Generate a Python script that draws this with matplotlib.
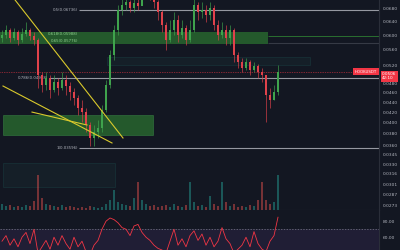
import matplotlib

matplotlib.use("Agg")

import matplotlib.pyplot as plt
import numpy as np
from matplotlib.patches import Rectangle
from matplotlib.ticker import NullLocator

BG = "#131722"
UP = "#3fa34d"
DOWN = "#e0424b"
TEXT = "#b2b5be"

# candles (price), one every bar
closes = [0.0600, 0.0614, 0.0592, 0.0609, 0.0586, 0.0603, 0.0614, 0.0597, 0.0586, 0.0499,
          0.0476, 0.0492, 0.0465, 0.0483, 0.0470, 0.0487, 0.0474, 0.0461, 0.0448, 0.0428,
          0.0420, 0.0396, 0.0373, 0.0383, 0.0390, 0.0424, 0.0476, 0.0547, 0.0614, 0.0674,
          0.0690, 0.0699, 0.0680, 0.0696, 0.0686, 0.0722, 0.0732, 0.0719, 0.0699, 0.0668,
          0.0629, 0.0586, 0.0614, 0.0643, 0.0600, 0.0620, 0.0586, 0.0614, 0.0690, 0.0668,
          0.0674, 0.0658, 0.0680, 0.0629, 0.0600, 0.0614, 0.0592, 0.0614, 0.0547, 0.0530,
          0.0515, 0.0530, 0.0510, 0.0520, 0.0506, 0.0499, 0.0455, 0.0444, 0.0461, 0.0506]
highs = [0.0614, 0.0629, 0.0620, 0.0620, 0.0614, 0.0620, 0.0637, 0.0620, 0.0609, 0.0592,
         0.0506, 0.0506, 0.0499, 0.0499, 0.0492, 0.0506, 0.0499, 0.0483, 0.0470, 0.0455,
         0.0444, 0.0428, 0.0401, 0.0396, 0.0405, 0.0434, 0.0487, 0.0560, 0.0629, 0.0690,
         0.0719, 0.0732, 0.0706, 0.0722, 0.0722, 0.0739, 0.0739, 0.0739, 0.0732, 0.0706,
         0.0674, 0.0637, 0.0643, 0.0668, 0.0658, 0.0643, 0.0629, 0.0643, 0.0712, 0.0699,
         0.0699, 0.0690, 0.0699, 0.0690, 0.0643, 0.0637, 0.0629, 0.0629, 0.0620, 0.0555,
         0.0540, 0.0540, 0.0535, 0.0530, 0.0525, 0.0515, 0.0499, 0.0470, 0.0476, 0.0522]
lows = [0.0581, 0.0592, 0.0581, 0.0586, 0.0573, 0.0581, 0.0597, 0.0586, 0.0573, 0.0470,
        0.0461, 0.0465, 0.0448, 0.0461, 0.0455, 0.0465, 0.0455, 0.0444, 0.0434, 0.0414,
        0.0401, 0.0383, 0.0359, 0.0359, 0.0373, 0.0383, 0.0420, 0.0470, 0.0535, 0.0600,
        0.0658, 0.0674, 0.0668, 0.0668, 0.0674, 0.0690, 0.0712, 0.0706, 0.0680, 0.0643,
        0.0609, 0.0560, 0.0581, 0.0600, 0.0581, 0.0592, 0.0573, 0.0581, 0.0609, 0.0643,
        0.0649, 0.0637, 0.0643, 0.0614, 0.0586, 0.0592, 0.0573, 0.0573, 0.0530, 0.0515,
        0.0506, 0.0510, 0.0499, 0.0506, 0.0492, 0.0483, 0.0401, 0.0428, 0.0444, 0.0455]
first_open = 0.0592
volumes = [6, 4, 5, 3, 4, 3, 5, 4, 9, 35, 12, 6, 5, 4, 3, 5, 3, 4, 3, 2,
           3, 2, 4, 3, 2, 3, 6, 10, 20, 8, 6, 5, 4, 12, 28, 10, 6, 4, 5, 3,
           4, 5, 3, 6, 4, 3, 5, 28, 8, 4, 5, 3, 14, 6, 4, 28, 8, 4, 6, 3,
           4, 3, 5, 4, 10, 28, 10, 6, 8, 35]
rsi = [55, 62, 50, 58, 48, 60, 66, 52, 70, 40, 48, 56, 45, 60, 50, 62, 52, 45, 60, 48,
       55, 42, 38, 50, 56, 70, 80, 84, 82, 78, 72, 70, 62, 74, 76, 66, 60, 56, 50, 46,
       44, 40, 55, 70, 50, 58, 48, 62, 68, 56, 64, 50, 60, 48, 55, 72, 58, 52, 40, 45,
       50, 60, 48, 67, 52, 45, 42, 55, 62, 85]

price_ticks = [0.0680, 0.0640, 0.0600, 0.0560, 0.0520, 0.0480, 0.0460, 0.0440, 0.0420,
               0.0400, 0.0380, 0.0360, 0.0345, 0.0330, 0.0316, 0.0301, 0.0287, 0.0273]
rsi_ticks = [80, 60]

# fib levels: (label, price, start bar)
fib_levels = [("0.5(0.06736)", 0.0674, 19.3), ("0.786(0.04938)", 0.0492, 12.0),
              ("1(0.03596)", 0.0356, 19.3)]
fib_zone = (0.0608, 0.0575)
fib_zone_labels = [("0.618(0.05988)", 0.0603), ("0.65(0.05776)", 0.0583)]
# drawn trend lines: (bar0, price0, bar1, price1)
trend_lines = [(3.25, 0.0706, 30.25, 0.03725),
               (0.25, 0.04739, 27.5, 0.0364),
               (7.5, 0.0420, 21.25, 0.03956)]
# drawn boxes: (bar0, bar1, price_low, price_high)
demand_box = (0.25, 37.75, 0.03777, 0.04144)
teal_boxes = [(26.25, 77.0, 0.05223, 0.0542), (0.25, 28.25, 0.02969, 0.0332)]


def draw_candles(ax):
    opens = [first_open] + closes[:-1]
    for i, (o, h, l, c) in enumerate(zip(opens, highs, lows, closes)):
        col = UP if c >= o else DOWN
        ax.vlines(i, l, h, color=col, lw=0.45, zorder=3)
        lo, hi = min(o, c), max(o, c)
        if hi / lo < 1.003:
            hi = lo * 1.003
        ax.add_patch(Rectangle((i - 0.25, lo), 0.5, hi - lo, color=col, lw=0, zorder=4))


def main():
    fig = plt.figure(figsize=(4, 2.5), dpi=100, facecolor=BG)
    ax = fig.add_axes([0, 0.16, 0.9475, 0.84], facecolor=BG)
    rax = fig.add_axes([0, 0, 0.9475, 0.16], facecolor=BG)
    n = len(closes)
    xmin, xmax = -0.5, 94.25

    ax.set_yscale("log")
    ax.set_xlim(xmin, xmax)
    ax.set_ylim(0.02669, 0.07057)

    # volume overlay
    vax = ax.twinx()
    vax.set_ylim(0, 210)
    vax.set_axis_off()
    opens = [first_open] + closes[:-1]
    vcols = ["#26a69a" if c >= o else "#ef5350" for o, c in zip(opens, closes)]
    vax.bar(range(n), volumes, width=0.45, color=vcols, alpha=0.45, lw=0)

    # zones and boxes
    ax.add_patch(Rectangle((xmin, fib_zone[1]), 66.5 - xmin, fib_zone[0] - fib_zone[1],
                           facecolor="#2e7d32", alpha=0.65, lw=0, zorder=1))
    ax.hlines(0.0597, 66.5, xmax, color="#2e7d32", lw=0.6, zorder=1)
    ax.hlines(0.0578, 66.5, xmax, color="#363a45", lw=0.8, zorder=1)
    x0, x1, p0, p1 = demand_box
    ax.add_patch(Rectangle((x0, p0), x1 - x0, p1 - p0, facecolor="#2e7d32", alpha=0.65,
                           edgecolor="#3c8c46", lw=0.5, zorder=1))
    for x0, x1, p0, p1 in teal_boxes:
        ax.add_patch(Rectangle((x0, p0), x1 - x0, p1 - p0, facecolor="#1b3a3a", alpha=0.25,
                               edgecolor="#1f6b66", lw=0.6, zorder=1))

    for label, price, start in fib_levels:
        ax.hlines(price, start, xmax, color="#9598a1", lw=0.8, zorder=2)
        ax.text(start - 0.4, price, label, color=TEXT, fontsize=2.8, ha="right", va="center")
    for label, price in fib_zone_labels:
        ax.text(19.0, price, label, color="#8fcf8f", fontsize=2.8, ha="right", va="center")

    for b0, p0, b1, p1 in trend_lines:
        ax.plot([b0, b1], [p0, p1], color="#d9c92c", lw=0.8, zorder=5)

    draw_candles(ax)

    last = closes[-1]
    ax.axhline(last, color="#f23645", lw=0.5, ls=(0, (1, 1.5)), zorder=2)
    ax.annotate("HOOKUSDT", (0.995, last), xycoords=("axes fraction", "data"), ha="right",
                va="center", fontsize=2.8, color="white",
                bbox=dict(boxstyle="square,pad=0.4", fc="#f23645", ec="none"))
    ax.annotate(f"{last:.4f}\n42:10", (1.008, last), xycoords=("axes fraction", "data"),
                ha="left", va="top", fontsize=3.0, color="white", annotation_clip=False,
                bbox=dict(boxstyle="square,pad=0.3", fc="#f23645", ec="none"), zorder=10)

    ax.yaxis.tick_right()
    ax.yaxis.set_minor_locator(NullLocator())
    ax.set_yticks(price_ticks)
    ax.set_yticklabels([f"{p:.4f}" for p in price_ticks])
    ax.tick_params(axis="y", length=0, pad=3, labelsize=3.2, labelcolor=TEXT)
    ax.set_xticks([])
    for s in ax.spines.values():
        s.set_visible(False)
    ax.spines["right"].set_visible(True)
    ax.spines["right"].set_color("#2a2e39")
    ax.spines["bottom"].set_visible(True)
    ax.spines["bottom"].set_color("#2a2e39")

    # RSI pane
    rax.set_xlim(xmin, xmax)
    rax.set_ylim(44, 94)
    rax.axhspan(30, 70, color="#7e57c2", alpha=0.12, lw=0)
    rax.axhline(70, color="#787b86", lw=0.5, ls=(0, (2, 2)))
    rax.plot(range(n), rsi, color="#f23645", lw=0.6)
    rax.yaxis.tick_right()
    rax.set_yticks(rsi_ticks)
    rax.set_yticklabels([f"{v:.2f}" for v in rsi_ticks])
    rax.tick_params(axis="y", length=0, pad=3, labelsize=3.2, labelcolor=TEXT)
    rax.set_xticks([])
    for s in rax.spines.values():
        s.set_visible(False)
    rax.spines["right"].set_visible(True)
    rax.spines["right"].set_color("#2a2e39")

    fig.savefig("out.png", dpi=100, facecolor=BG)
    plt.close(fig)


if __name__ == "__main__":
    main()
